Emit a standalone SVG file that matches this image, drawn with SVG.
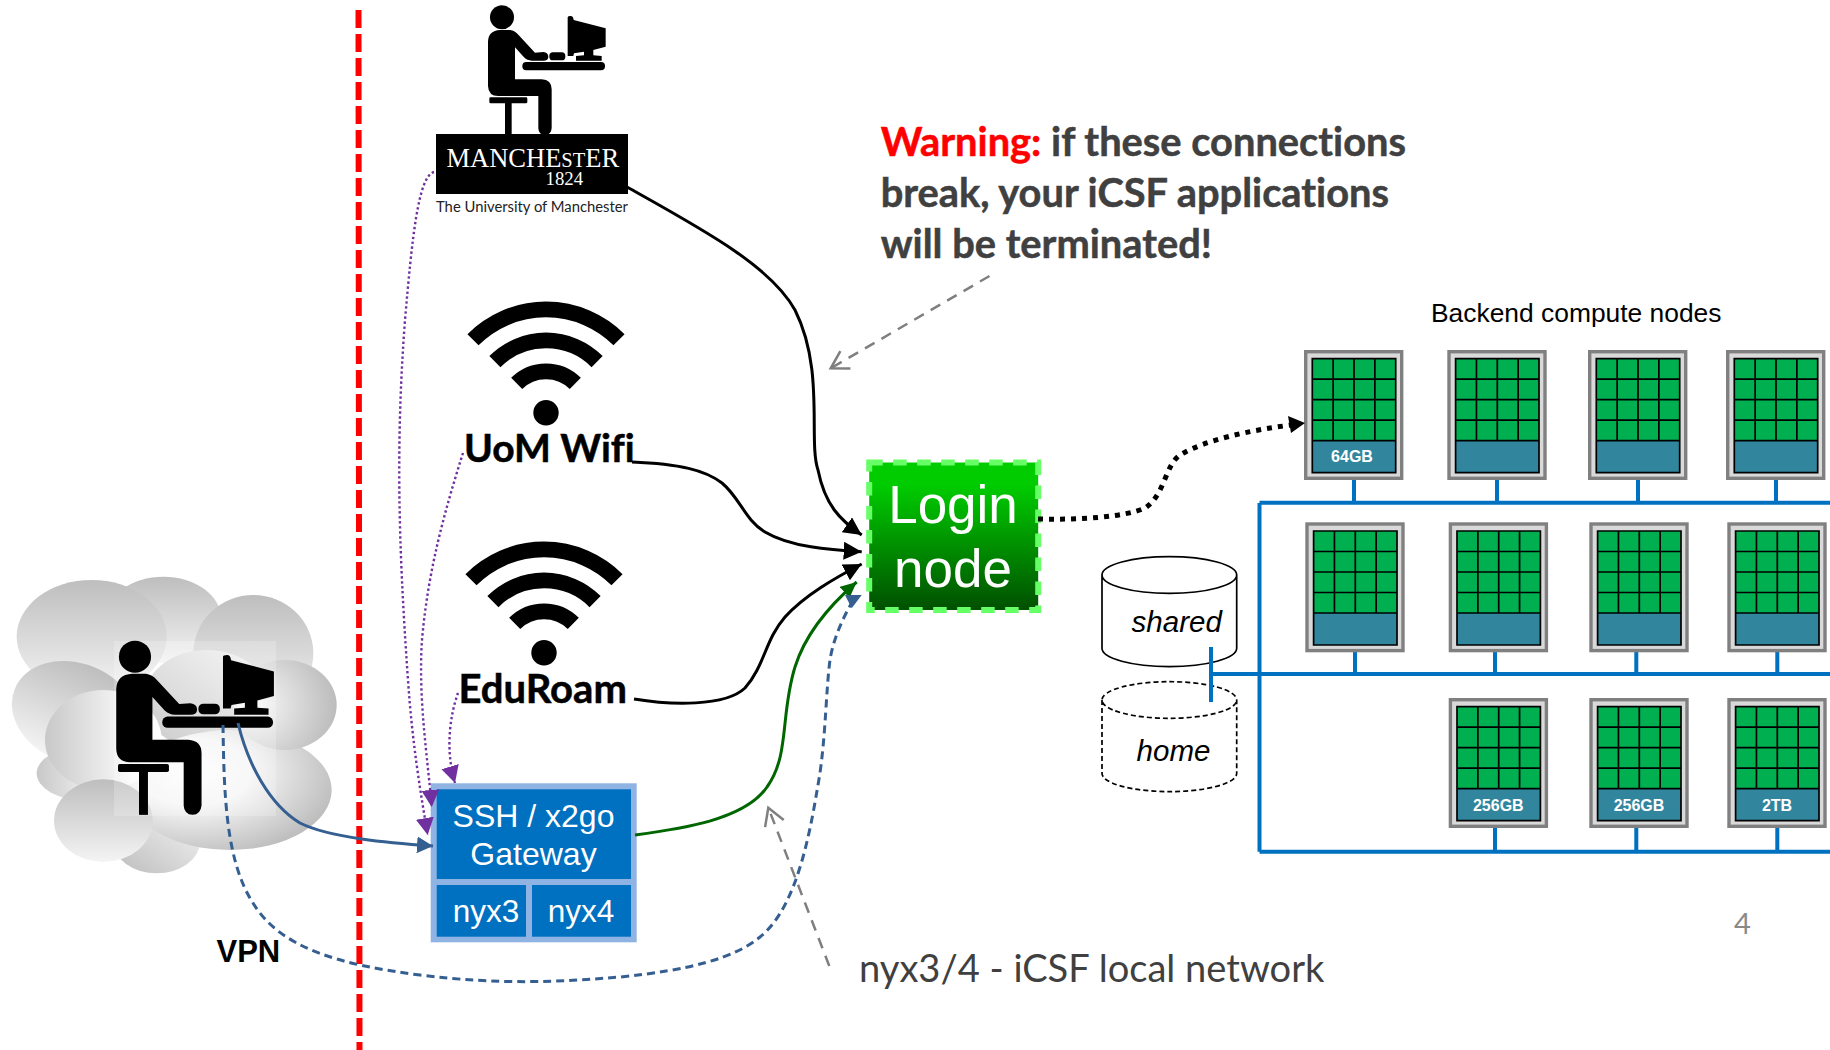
<svg xmlns="http://www.w3.org/2000/svg" xmlns:xlink="http://www.w3.org/1999/xlink" width="1830" height="1050" viewBox="0 0 1830 1050">
<style>
.sans{font-family:"Liberation Sans",Arial,sans-serif}
.lato{font-family:Lato,"Open Sans",sans-serif;font-variant-ligatures:none}
.serif{font-family:"Liberation Serif","Times New Roman",serif}
.wt{fill:#fff}
.mid{text-anchor:middle}
.bus{stroke:#0070C0;stroke-width:4;fill:none}
.c{fill:none}
.blk{stroke:#000;stroke-width:3}
.pur{stroke:#7030A0;stroke-width:2.4;stroke-dasharray:2.4 2.6}
.gry{stroke:#7F7F7F;stroke-width:2.5;stroke-dasharray:11 8}
.nav{stroke:#355F91;stroke-width:3}
.lab{font-size:16px;font-weight:bold;fill:#fff;text-anchor:middle}
.arc{fill:none;stroke:#000;stroke-width:15.7}
.heavy{font-weight:bold;stroke-width:.5}
</style>
<defs>
<linearGradient id="gV" x1="0" y1="0" x2="0" y2="1"><stop offset="0" stop-color="#bebebe"/><stop offset="1" stop-color="#f4f4f4"/></linearGradient>
<linearGradient id="gH" x1="0" y1="0" x2="1" y2="0"><stop offset="0" stop-color="#c8c8c8"/><stop offset=".75" stop-color="#fbfbfb"/><stop offset="1" stop-color="#fff"/></linearGradient>
<linearGradient id="gB" x1="0" y1="1" x2="1" y2="0"><stop offset="0" stop-color="#bcbcbc"/><stop offset="1" stop-color="#f6f6f6"/></linearGradient>
<radialGradient id="gR1" cx=".15" cy=".5" r=".9"><stop offset="0" stop-color="#fdfdfd"/><stop offset="1" stop-color="#b8b8b8"/></radialGradient>
<radialGradient id="gR2" cx=".32" cy=".35" r=".8"><stop offset="0" stop-color="#fdfdfd"/><stop offset=".35" stop-color="#f6f6f6"/><stop offset="1" stop-color="#b4b4b4"/></radialGradient>
<linearGradient id="gLogin" x1="0" y1="0" x2="0" y2="1"><stop offset="0" stop-color="#00CC00"/><stop offset=".15" stop-color="#00CC00"/><stop offset="1" stop-color="#005000"/></linearGradient>
<marker id="mB" markerUnits="userSpaceOnUse" markerWidth="22" markerHeight="22" refX="18" refY="9" orient="auto"><path d="M0,0 L18,9 L0,18 Z" fill="#000"/></marker>
<marker id="mG" markerUnits="userSpaceOnUse" markerWidth="20" markerHeight="20" refX="16" refY="7.5" orient="auto"><path d="M0,0 L16,7.5 L0,15 Z" fill="#006600"/></marker>
<marker id="mN" markerUnits="userSpaceOnUse" markerWidth="22" markerHeight="22" refX="16" refY="8.5" orient="auto"><path d="M0,0 L16,8.5 L0,17 Z" fill="#355F91"/></marker>
<marker id="mP" markerUnits="userSpaceOnUse" markerWidth="22" markerHeight="22" refX="17" refY="9" orient="auto"><path d="M0,0 L17,9 L0,18 Z" fill="#7030A0"/></marker>
<marker id="mO" markerUnits="userSpaceOnUse" markerWidth="24" markerHeight="24" refX="20" refY="12" orient="auto"><path d="M3,2 L20,12 L3,22" fill="none" stroke="#7F7F7F" stroke-width="2.5"/></marker>
<g id="person" fill="#000">
<circle cx="306" cy="52" r="36"/>
<path d="M300,90 L330,90 Q345,92 355,104 L405,158 L430,156 Q445,158 445,170 Q445,182 430,182 L395,182 Q382,182 372,172 L345,142 L345,238 L425,238 Q455,240 455,268 L455,385 Q453,405 435,406 Q416,405 415,385 L415,288 L295,288 Q265,288 264,258 L264,125 Q265,92 300,90 Z"/>
<rect x="268" y="292" width="114" height="18" rx="4"/>
<rect x="315" y="308" width="20" height="98"/>
<rect x="448" y="157" width="48" height="24" rx="11"/>
<rect x="367" y="186" width="248" height="25" rx="12"/>
<path d="M503,52 Q503,48 512,48 Q520,48 521,60 L617,85 L617,140 L580,150 L580,166 L605,168 L605,182 L528,182 L528,168 L552,166 L552,155 L522,160 L520,168 L503,168 Z"/>
</g>
<g id="wifi">
<path class="arc" d="M-73,-73 A103.2,103.2 0 0 1 73,-73"/>
<path class="arc" d="M-51.1,-51.1 A72.3,72.3 0 0 1 51.1,-51.1"/>
<path class="arc" d="M-29.3,-29.3 A41.5,41.5 0 0 1 29.3,-29.3"/>
<circle r="12.7" fill="#000"/>
</g>
<g id="compute">
<rect x="1.7" y="1.7" width="96" height="126.6" fill="#D9D9D9" stroke="#808080" stroke-width="3.4"/>
<rect x="8.3" y="8.7" width="83.4" height="82" fill="#00B050"/>
<rect x="8.3" y="90.7" width="83.4" height="32" fill="#31859C"/>
<path d="M8.3,8.7 H91.7 V122.7 H8.3 Z M8.3,29.2 H91.7 M8.3,49.7 H91.7 M8.3,70.2 H91.7 M8.3,90.7 H91.7 M29.15,8.7 V90.7 M50,8.7 V90.7 M70.85,8.7 V90.7" fill="none" stroke="#000" stroke-width="1.7"/>
</g>
</defs>
<rect width="1830" height="1050" fill="#fff"/>

<g id="boundary"><line x1="358.5" y1="10" x2="359.5" y2="1050" stroke="#FF0000" stroke-width="6" stroke-dasharray="18 6"/></g>

<g id="cloud-user">
<g transform="translate(0,560) scale(.33333)">
<ellipse cx="490" cy="180" rx="175" ry="130" fill="url(#gV)"/>
<ellipse cx="275" cy="230" rx="225" ry="170" fill="url(#gV)"/>
<ellipse cx="760" cy="280" rx="180" ry="175" fill="url(#gV)"/>
<ellipse cx="225" cy="460" rx="195" ry="150" fill="url(#gV)" transform="rotate(22 225 460)"/>
<ellipse cx="250" cy="640" rx="140" ry="80" fill="url(#gH)"/>
<ellipse cx="470" cy="845" rx="130" ry="95" fill="url(#gB)"/>
<ellipse cx="620" cy="420" rx="190" ry="150" fill="url(#gB)"/>
<ellipse cx="690" cy="690" rx="305" ry="180" fill="url(#gR2)"/>
<ellipse cx="855" cy="435" rx="155" ry="135" fill="url(#gR1)"/>
<ellipse cx="310" cy="540" rx="175" ry="150" fill="url(#gH)"/>
<ellipse cx="310" cy="782" rx="148" ry="124" fill="url(#gV)"/>
</g>
<rect x="114" y="641" width="162" height="175" fill="#fff" fill-opacity=".22"/>
<use href="#person" transform="translate(-1.7,633.5) scale(.4467)"/>
</g>

<g id="uom-user">
<use href="#person" transform="translate(400,0) scale(.33333)"/>
<rect x="436" y="134" width="192" height="60" fill="#000"/>
<text class="serif wt" x="446.5" y="166.7" font-size="26.5">MANCHE<tspan font-size="20.5">ST</tspan>ER</text>
<text class="serif wt" x="545.5" y="185" font-size="18.8">1824</text>
<text class="lato" x="436" y="212" font-size="15.5" fill="#222" textLength="192" lengthAdjust="spacingAndGlyphs">The University of Manchester</text>
</g>

<g id="uom-wifi">
<use href="#wifi" x="546" y="412.7"/>
<text class="lato heavy" x="464" y="462" font-size="39" fill="#000" stroke="#000">UoM Wifi</text>
</g>
<g id="eduroam">
<use href="#wifi" x="544" y="652.7"/>
<text class="lato heavy" x="458.5" y="702.7" font-size="40" fill="#000" stroke="#000">EduRoam</text>
</g>

<g id="gateway">
<rect x="430.7" y="783.3" width="206" height="159" fill="#8FB4E3"/>
<rect x="436.7" y="789.3" width="194.3" height="89.7" fill="#0070C0"/>
<rect x="436.7" y="885" width="89.3" height="51.7" fill="#0070C0"/>
<rect x="532" y="885" width="99" height="51.7" fill="#0070C0"/>
<text class="sans wt mid" x="533.5" y="827" font-size="32">SSH / x2go</text>
<text class="sans wt mid" x="533.5" y="865" font-size="32">Gateway</text>
<text class="sans wt mid" x="486" y="922" font-size="31.5">nyx3</text>
<text class="sans wt mid" x="581" y="922" font-size="31.5">nyx4</text>
</g>

<g id="login">
<rect x="869.2" y="462.5" width="169" height="147.5" fill="url(#gLogin)" stroke="#66FF66" stroke-width="6" stroke-dasharray="13.5 10.5"/>
<text class="sans wt mid" x="953" y="522.7" font-size="53">Login</text>
<text class="sans wt mid" x="953" y="586.7" font-size="53">node</text>
</g>

<g id="shared">
<path d="M1102,575 V648.3 A67.3,18.3 0 0 0 1236.7,648.3 V575 A67.3,18.3 0 0 0 1102,575 A67.3,18.3 0 0 0 1236.7,575" fill="#fff" stroke="#000" stroke-width="1.7"/>
<text class="sans mid" x="1176.7" y="631.7" font-size="29.5" font-style="italic">shared</text>
</g>
<g id="home">
<path d="M1102,700 V773.3 A67.3,18.3 0 0 0 1236.7,773.3 V700 A67.3,18.3 0 0 0 1102,700 A67.3,18.3 0 0 0 1236.7,700" fill="#fff" stroke="#000" stroke-width="1.7" stroke-dasharray="5 3"/>
<text class="sans mid" x="1173.5" y="760.7" font-size="29.5" font-style="italic">home</text>
</g>

<g id="network">
<path class="bus" d="M1259.5,503 V851.7 M1259.5,502.7 H1830 M1211,674 H1830 M1259.5,851.7 H1830 M1211,647 V702"/>
<path class="bus" d="M1354,480 V503 M1497,480 V503 M1638,480 V503 M1776,480 V503 M1355,652 V674 M1495,652 V674 M1636.3,652 V674 M1777.3,652 V674 M1495,828 V851 M1636.3,828 V851 M1777.3,828 V851"/>
</g>

<g id="node-r1-1"><use href="#compute" x="1304" y="350"/><text class="sans lab" x="1352" y="461.7">64GB</text></g>
<g id="node-r1-2"><use href="#compute" x="1447.3" y="350"/></g>
<g id="node-r1-3"><use href="#compute" x="1588" y="350"/></g>
<g id="node-r1-4"><use href="#compute" x="1726" y="350"/></g>
<g id="node-r2-1"><use href="#compute" x="1305.3" y="522.3"/></g>
<g id="node-r2-2"><use href="#compute" x="1448.7" y="522.3"/></g>
<g id="node-r2-3"><use href="#compute" x="1589.3" y="522.3"/></g>
<g id="node-r2-4"><use href="#compute" x="1727.3" y="522.3"/></g>
<g id="node-r3-2"><use href="#compute" x="1448.7" y="698"/><text class="sans lab" x="1498.3" y="811">256GB</text></g>
<g id="node-r3-3"><use href="#compute" x="1589.3" y="698"/><text class="sans lab" x="1639" y="811">256GB</text></g>
<g id="node-r3-4"><use href="#compute" x="1727.3" y="698"/><text class="sans lab" x="1777" y="811">2TB</text></g>

<g id="connectors">
<path class="c blk" marker-end="url(#mB)" d="M627,187 C700,228 770,265 795,310 C825,370 808,440 818,470 C825,505 840,520 861.7,535"/>
<path class="c blk" marker-end="url(#mB)" d="M632,462 C680,464 705,470 722,483 C740,498 745,520 765,532 C790,547 830,550 861.7,551.7"/>
<path class="c blk" marker-end="url(#mB)" d="M634,699 C670,705 725,707 745,688 C765,665 765,640 785,617 C805,595 835,578 861.7,564"/>
<path class="c" stroke="#006600" stroke-width="3" marker-end="url(#mG)" d="M635,835 C680,829 745,820 767,787 C790,755 780,715 795,667 C805,635 830,605 856.7,582"/>
<path class="c nav" marker-end="url(#mN)" d="M238,723 C248,765 270,805 300,823 C330,838 390,843 433,846"/>
<path class="c nav" stroke-dasharray="8 5" d="M223,725 C224,790 225,860 253,903 C280,948 340,965 420,975 C500,985 560,982 620,977 C690,970 735,958 760,937 C800,905 812,820 820,773 C826,730 826,690 830,660 C833,640 842,620 851,604"/>
<polygon points="845,595 861.7,595 851.7,608.3" fill="#355F91"/>
<path class="c pur" marker-end="url(#mP)" d="M434,172 C418,176 412,240 405,320 C396,440 398,540 408,680 C412,740 420,790 427.7,835"/>
<path class="c pur" marker-end="url(#mP)" d="M463,453 C445,510 428,570 422,640 C418,700 428,760 431.7,807"/>
<path class="c pur" marker-end="url(#mP)" d="M458,693 C450,715 445,750 455,783"/>
<path class="c" stroke="#000" stroke-width="5" stroke-dasharray="5 6" d="M1038,519 C1080,520 1125,517 1145,508 C1165,495 1165,465 1180,455 C1205,440 1250,430 1295,424.5"/>
<polygon points="1288,416 1291,433 1305,423" fill="#000"/>
<line class="c gry" marker-end="url(#mO)" x1="989.5" y1="276" x2="830.7" y2="368.3"/>
<line class="c gry" marker-end="url(#mO)" x1="829.3" y1="966" x2="768.3" y2="807.7"/>
</g>

<g id="labels">
<text class="lato heavy" x="880.7" y="155.5" font-size="39.8" fill="#404040" stroke="#404040"><tspan fill="#FF0000" stroke="#FF0000">Warning:</tspan> if these connections</text>
<text class="lato heavy" x="880.7" y="206.7" font-size="39.8" fill="#404040" stroke="#404040">break, your iCSF applications</text>
<text class="lato heavy" x="880.7" y="257.7" font-size="39.8" fill="#404040" stroke="#404040">will be terminated!</text>
<text class="sans" x="1431" y="322" font-size="26.4">Backend compute nodes</text>
<text class="sans" x="216.5" y="962" font-size="31" font-weight="bold">VPN</text>
<text class="lato" x="859" y="982" font-size="38.1" fill="#404040">nyx3/4 - iCSF local network</text>
<text class="lato" x="1734" y="934" font-size="29" fill="#898989">4</text>
</g>
</svg>
